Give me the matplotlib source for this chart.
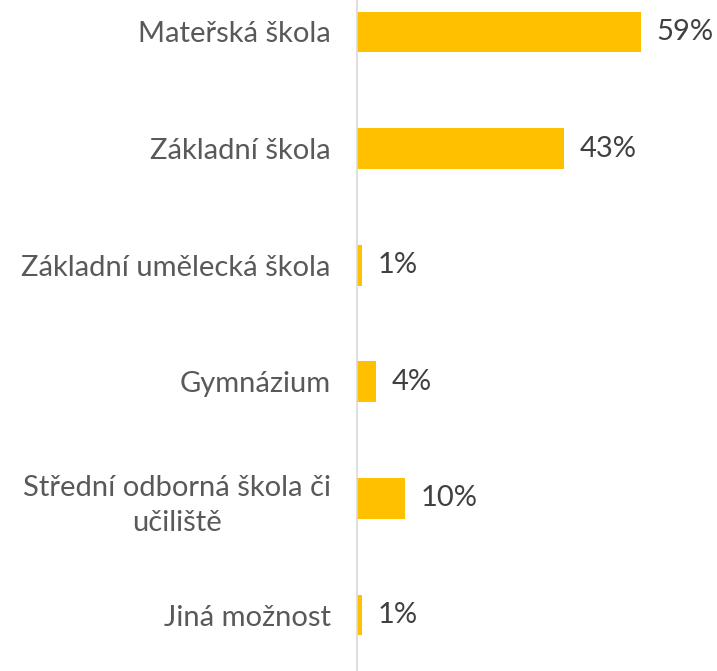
import matplotlib.pyplot as plt

categories = ['Mateřská škola', 'Základní škola', 'Základní umělecká škola',
              'Gymnázium', 'Střední odborná škola či\nučiliště', 'Jiná možnost']
values = [59, 43, 1, 4, 10, 1]

plt.rcParams['font.family'] = ['Lato', 'DejaVu Sans']

fig = plt.figure(figsize=(7.17, 6.71), dpi=100)
ax = fig.add_axes([0.498, 0, 0.502, 1])

pos = list(range(len(categories)))
ax.barh(pos, values, height=0.35, color='#FFC000')

for p, v in zip(pos, values):
    ax.annotate(f'{v}%', (v, p), xytext=(11, 0), textcoords='offset points',
                va='center', ha='left', fontsize=21, color='#404040')

ax.set_xlim(0, 74.8)
ax.set_ylim(5.48, -0.274)
ax.set_yticks(pos)
ax.set_yticklabels(categories, fontsize=21, color='#595959', multialignment='center')
for lbl in ax.get_yticklabels():
    lbl.set_linespacing(1.45)
ax.tick_params(axis='y', length=0, pad=19)
ax.set_xticks([])

for s in ['top', 'right', 'bottom']:
    ax.spines[s].set_visible(False)
ax.spines['left'].set_color('#D9D9D9')
ax.spines['left'].set_linewidth(1.2)

fig.savefig('out.png', dpi=100)
